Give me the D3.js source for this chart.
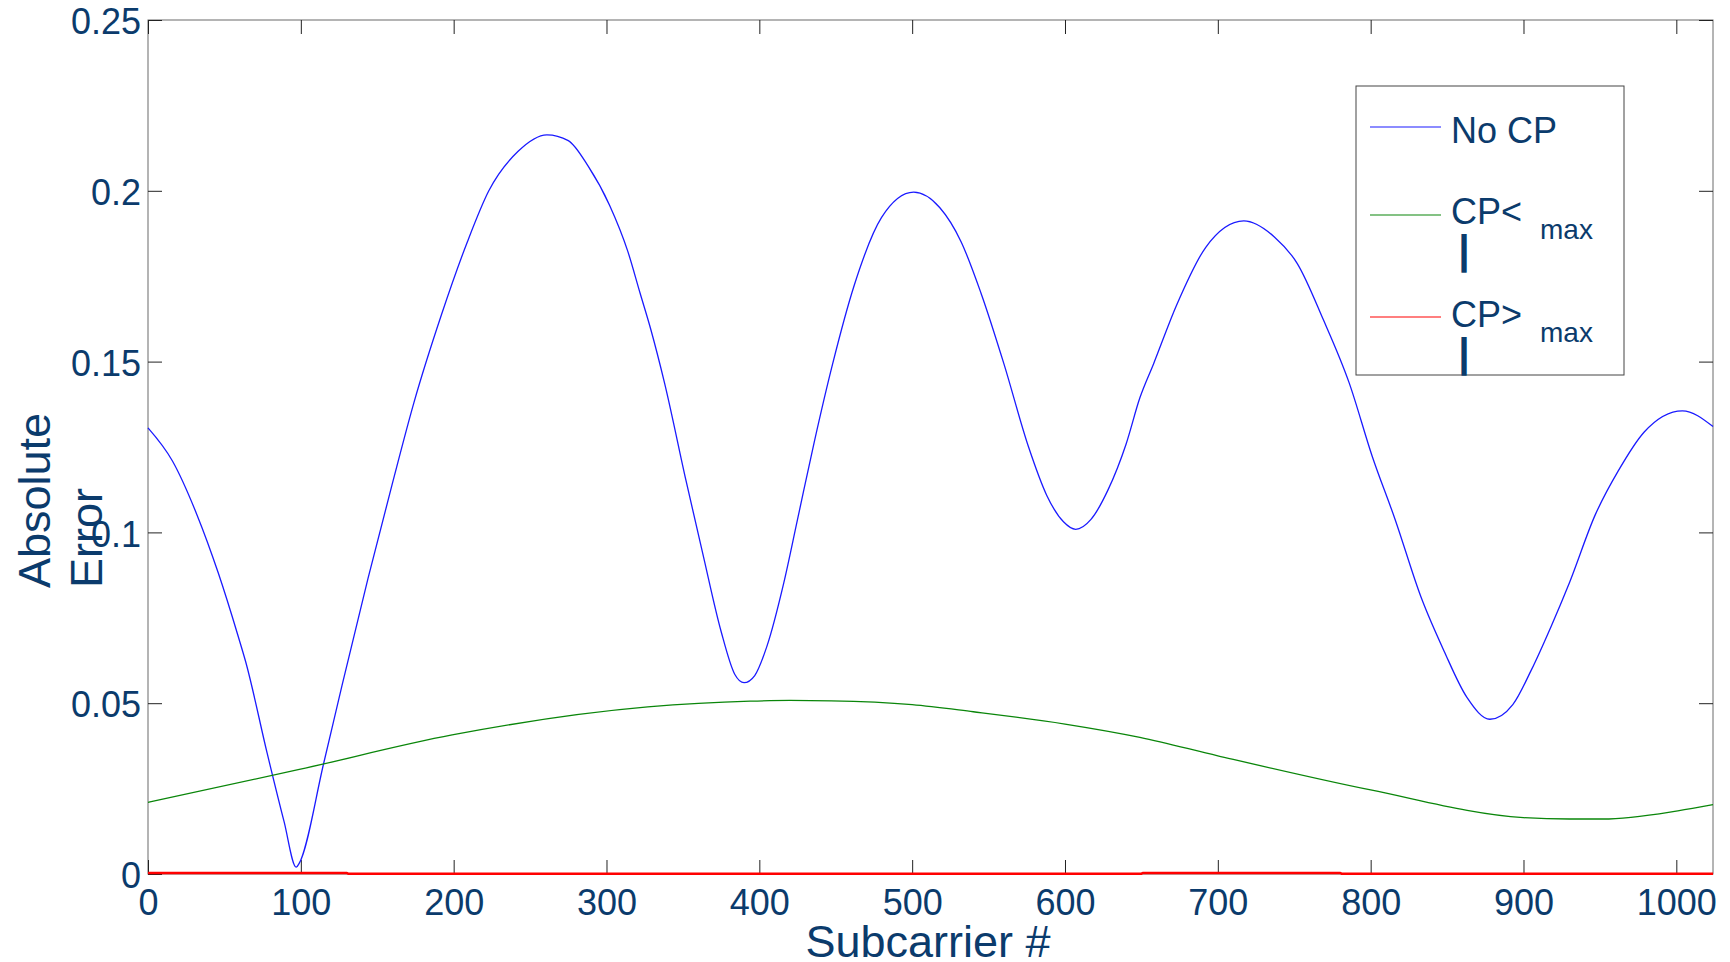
<!DOCTYPE html>
<html>
<head>
<meta charset="utf-8">
<script src="https://cdn.jsdelivr.net/npm/d3@7"></script>
<style>
  body { margin: 0; background: #fff; }
  svg { display: block; }
  text { font-family: "Liberation Sans", Arial, sans-serif; fill: #0b3b6c; }
</style>
</head>
<body>
<svg id="chart" width="1730" height="962"></svg>
<script>
// absolute error per subcarrier

var noCpX = [0, 16, 32, 46, 59, 64, 78, 89, 97, 99, 115, 127, 144, 160, 174, 192, 209, 223, 242, 261,
  275, 288, 302, 314, 322, 329, 338, 352, 363, 375, 384, 390, 397, 405, 416, 425, 436, 448, 462, 480,
  501, 518, 532, 545, 560, 576, 588, 599, 607, 617, 628, 640, 649, 658, 673, 692, 717, 737, 752, 769,
  786, 801, 816, 833, 848, 863, 878, 893, 905, 918, 930, 947, 962, 979, 1004, 1024];
var noCpY = [0.1306, 0.1209, 0.1052, 0.0881, 0.0696, 0.0620, 0.0353, 0.0154, 0.0020, 0.0032, 0.0325,
  0.0553, 0.0866, 0.1145, 0.1380, 0.1637, 0.1851, 0.2000, 0.2115, 0.2164, 0.2147, 0.2072, 0.1958, 0.1822,
  0.1700, 0.1594, 0.1437, 0.1152, 0.0938, 0.0710, 0.0584, 0.0560, 0.0581, 0.0667, 0.0852, 0.1038, 0.1266,
  0.1494, 0.1722, 0.1922, 0.1996, 0.1951, 0.1851, 0.1701, 0.1494, 0.1252, 0.1109, 0.1031, 0.1009, 0.1038,
  0.1123, 0.1259, 0.1394, 0.1494, 0.1665, 0.1834, 0.1912, 0.1865, 0.1787, 0.1623, 0.1437, 0.1223, 0.1038,
  0.0810, 0.0653, 0.0517, 0.0453, 0.0496, 0.0596, 0.0724, 0.0852, 0.1052, 0.1180, 0.1294, 0.1356, 0.1310];

var cpShortX = [0, 99, 199, 327, 394, 420, 447, 500, 540, 600, 649, 700, 800, 900, 930, 952, 1001, 1024];
var cpShortY = [0.0210, 0.0306, 0.0407, 0.0489, 0.0506, 0.0508, 0.0507, 0.0496, 0.0475, 0.0439, 0.0400,
  0.0346, 0.0246, 0.0165, 0.0161, 0.0161, 0.0185, 0.0203];

var cpLongX = [0, 130, 131, 650, 651, 780, 781, 1024];
var cpLongY = [0.0003, 0.0003, 0.0001, 0.0001, 0.0003, 0.0003, 0.0001, 0.0001];

var xTicks = [0, 100, 200, 300, 400, 500, 600, 700, 800, 900, 1000];
var yTicks = [0, 0.05, 0.1, 0.15, 0.2, 0.25];
var yTickLabels = ["0", "0.05", "0.1", "0.15", "0.2", "0.25"];

var seriesNames = ["No CP", "CP<", "CP>"];
var seriesColors = ["#1a1aff", "#0a860a", "#ff0000"];

(function() {
  var pl = 148, pr = 1713, pt = 20, pb = 874;

  var svg = d3.select("#chart");

  var x = d3.scaleLinear().domain([0, 1024]).range([pl, pr]);
  var y = d3.scaleLinear().domain([0, 0.25]).range([pb, pt]);

  // box
  svg.append("rect")
    .attr("x", pl).attr("y", pt)
    .attr("width", pr - pl).attr("height", pb - pt)
    .attr("fill", "none").attr("stroke", "#6a6a6a").attr("stroke-width", 1);

  // axes, matlab style ticks pointing in
  var tl = 14;
  var axB = svg.append("g").attr("transform", "translate(0," + pb + ")")
    .call(d3.axisBottom(x).tickValues(xTicks).tickSize(-tl).tickPadding(24).tickFormat(d3.format("d")));
  var axT = svg.append("g").attr("transform", "translate(0," + pt + ")")
    .call(d3.axisTop(x).tickValues(xTicks).tickSize(-tl).tickFormat(""));
  var axL = svg.append("g").attr("transform", "translate(" + pl + ",0)")
    .call(d3.axisLeft(y).tickValues(yTicks).tickSize(-tl).tickPadding(7)
      .tickFormat(function(d, i) { return yTickLabels[i]; }));
  var axR = svg.append("g").attr("transform", "translate(" + pr + ",0)")
    .call(d3.axisRight(y).tickValues(yTicks).tickSize(-tl).tickFormat(""));

  [axB, axT, axL, axR].forEach(function(a) {
    a.select(".domain").remove();
    a.selectAll(".tick line").attr("stroke", "#222").attr("stroke-width", 1);
    a.selectAll(".tick text").attr("font-size", 36).attr("fill", "#0b3b6c")
      .attr("font-family", "'Liberation Sans', Arial, sans-serif");
  });
  axB.selectAll(".tick text").attr("dy", "0.48em");
  axL.selectAll(".tick text").attr("dy", "0.38em");

  // series
  var smooth = d3.line()
    .x(function(d) { return x(d[0]); })
    .y(function(d) { return y(d[1]); })
    .curve(d3.curveMonotoneX);
  var steps = d3.line()
    .x(function(d) { return x(d[0]); })
    .y(function(d) { return y(d[1]); });

  var series = [
    d3.zip(noCpX, noCpY),
    d3.zip(cpShortX, cpShortY),
    d3.zip(cpLongX, cpLongY)
  ];
  var widths = [1.3, 1.3, 2.5];

  series.forEach(function(s, i) {
    svg.append("path")
      .datum(s)
      .attr("d", i == 2 ? steps(s) : smooth(s))
      .attr("fill", "none")
      .attr("stroke", seriesColors[i])
      .attr("stroke-width", widths[i]);
  });

  // labels
  svg.append("text")
    .attr("x", 928).attr("y", 957)
    .attr("text-anchor", "middle").attr("font-size", 45)
    .text("Subcarrier #");

  svg.append("text")
    .attr("transform", "translate(50,588) rotate(-90)")
    .attr("font-size", 45)
    .text("Absolute");
  svg.append("text")
    .attr("transform", "translate(102,588) rotate(-90)")
    .attr("font-size", 45)
    .text("Error");

  // legend
  var lg = svg.append("g");
  lg.append("rect")
    .attr("x", 1356).attr("y", 86).attr("width", 268).attr("height", 289)
    .attr("fill", "#fff").attr("stroke", "#444").attr("stroke-width", 1);

  var legY = [127, 215, 317];
  var legBase = [143, 224, 327];

  seriesNames.forEach(function(name, i) {
    lg.append("line")
      .attr("x1", 1370).attr("x2", 1441)
      .attr("y1", legY[i]).attr("y2", legY[i])
      .attr("stroke", seriesColors[i]).attr("stroke-width", 1.2);
    lg.append("text")
      .attr("x", 1451).attr("y", legBase[i])
      .attr("font-size", 36)
      .text(name);
    if (i > 0) {
      lg.append("text")
        .attr("x", 1540).attr("y", legBase[i] + 15)
        .attr("font-size", 28)
        .text("max");
      lg.append("text")
        .attr("x", 1464).attr("y", legBase[i] + 40)
        .attr("text-anchor", "middle")
        .attr("font-size", 41).attr("font-weight", "bold")
        .text("|");
    }
  });
})();
</script>
</body>
</html>
